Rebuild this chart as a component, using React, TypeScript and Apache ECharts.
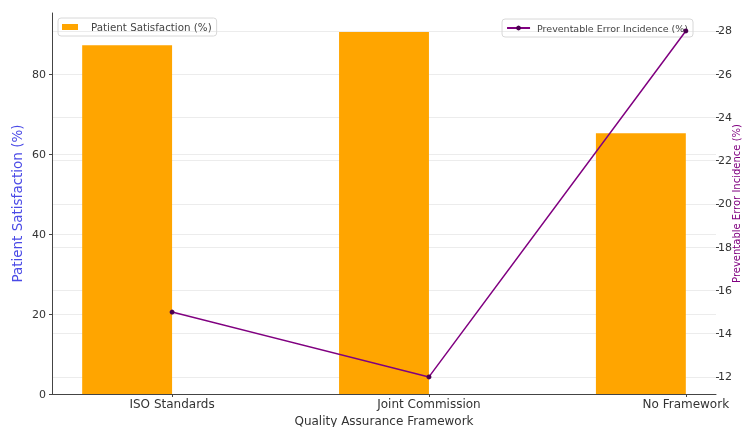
import React, { useEffect, useRef } from 'react';
import * as echarts from 'echarts';

const categories = ['ISO Standards', 'Joint Commission', 'No Framework'];
const satisfaction = [87.2, 90.5, 65.2];
const errorIncidence = [15, 12, 28];
const leftTicks = [0, 20, 40, 60, 80];
const rightTicks = [12, 14, 16, 18, 20, 22, 24, 26, 28];

const FONT = 'DejaVu Sans';

export default function App() {
  const ref = useRef<HTMLDivElement>(null);
  useEffect(() => {
    const chart = echarts.init(ref.current!, null, { renderer: 'svg' });
    const idx = categories.map((_, i) => i);
    chart.setOption({
      animation: false,
      textStyle: { fontFamily: FONT },
      grid: { left: 52, right: 27, top: 13, bottom: 33, containLabel: false, outerBoundsMode: 'none' },
      legend: [
        {
          data: [{ name: 'Patient Satisfaction (%)', icon: 'rect' }],
          left: 58,
          top: 18,
          orient: 'horizontal',
          borderColor: '#d8d8d8',
          borderWidth: 1,
          borderRadius: 3,
          padding: [4, 5, 4, 4],
          itemWidth: 16,
          itemHeight: 6,
          textStyle: { fontSize: 10.3, color: '#444', fontFamily: FONT, padding: [0, 0, 0, 8] },
        },
        {
          data: ['Preventable Error Incidence (%)'],
          right: 50,
          top: 19,
          borderColor: '#d8d8d8',
          borderWidth: 1,
          borderRadius: 3,
          padding: [4, 5, 4, 4],
          itemWidth: 23,
          itemHeight: 6,
          textStyle: { fontSize: 9.5, color: '#444', fontFamily: FONT, padding: [0, 0, 0, 2] },
        },
      ],
      xAxis: {
        type: 'value',
        min: -0.4675,
        max: 2.1175,
        name: 'Quality Assurance Framework',
        nameLocation: 'middle',
        nameGap: 18,
        nameTextStyle: { fontSize: 12, color: '#333', fontFamily: FONT },
        axisLine: { show: true, onZero: false, lineStyle: { color: '#444', width: 1 } },
        axisTick: { show: true, customValues: idx, length: 3, lineStyle: { color: '#444' } },
        axisLabel: {
          customValues: idx,
          formatter: (v: number) => categories[Math.round(v)] ?? '',
          fontSize: 12,
          color: '#333',
          margin: 4,
          fontFamily: FONT,
        },
        splitLine: { show: false },
      },
      yAxis: [
        {
          type: 'value',
          min: 0,
          max: 95.25,
          name: 'Patient Satisfaction (%)',
          nameLocation: 'middle',
          nameGap: 28,
          nameMoveOverlap: false,
          nameTextStyle: { fontSize: 13.5, color: '#4a4ae6', fontFamily: FONT },
          axisLine: { show: true, onZero: false, lineStyle: { color: '#444', width: 1 } },
          axisTick: { show: true, customValues: leftTicks, length: 3, lineStyle: { color: '#444' } },
          axisLabel: { customValues: leftTicks, fontSize: 11, color: '#333', margin: 6, fontFamily: FONT },
          splitLine: { show: true, lineStyle: { color: '#ececec', width: 1 } },
        },
        {
          type: 'value',
          min: 11.21,
          max: 28.83,
          position: 'right',
          name: 'Preventable Error Incidence (%)',
          nameLocation: 'middle',
          nameGap: 15,
          nameRotate: 90,
          nameMoveOverlap: false,
          nameTextStyle: { fontSize: 10, color: '#800080', fontFamily: FONT },
          axisLine: { show: false, onZero: false },
          axisTick: { show: true, customValues: rightTicks, length: 3, lineStyle: { color: '#444' } },
          axisLabel: { customValues: rightTicks, fontSize: 11, color: '#333', margin: 2, fontFamily: FONT },
          splitLine: { show: true, lineStyle: { color: '#ececec', width: 1 } },
        },
      ],
      series: [
        {
          type: 'custom',
          name: 'Patient Satisfaction (%)',
          xAxisIndex: 0,
          yAxisIndex: 0,
          z: 2,
          itemStyle: { color: '#FFA500' },
          data: satisfaction.map((v, i) => [i, v]),
          encode: { x: 0, y: 1 },
          renderItem: (params: any, api: any) => {
            const x = api.value(0);
            const y = api.value(1);
            const p1 = api.coord([x - 0.35, y]);
            const p2 = api.coord([x, 0]);
            return {
              type: 'rect',
              shape: { x: p1[0], y: p1[1], width: p2[0] - p1[0], height: p2[1] - p1[1] },
              style: { fill: '#FFA500' },
            };
          },
        },
        {
          type: 'line',
          name: 'Preventable Error Incidence (%)',
          xAxisIndex: 0,
          yAxisIndex: 1,
          z: 5,
          data: errorIncidence.map((v, i) => [i, v]),
          symbol: 'circle',
          symbolSize: 5,
          lineStyle: { color: '#800080', width: 1.5 },
          itemStyle: { color: '#4b0050' },
        },
      ],
    });
    return () => chart.dispose();
  }, []);
  return <div ref={ref} style={{ position: 'fixed', left: 0, top: 0, width: 743, height: 427 }} />;
}
